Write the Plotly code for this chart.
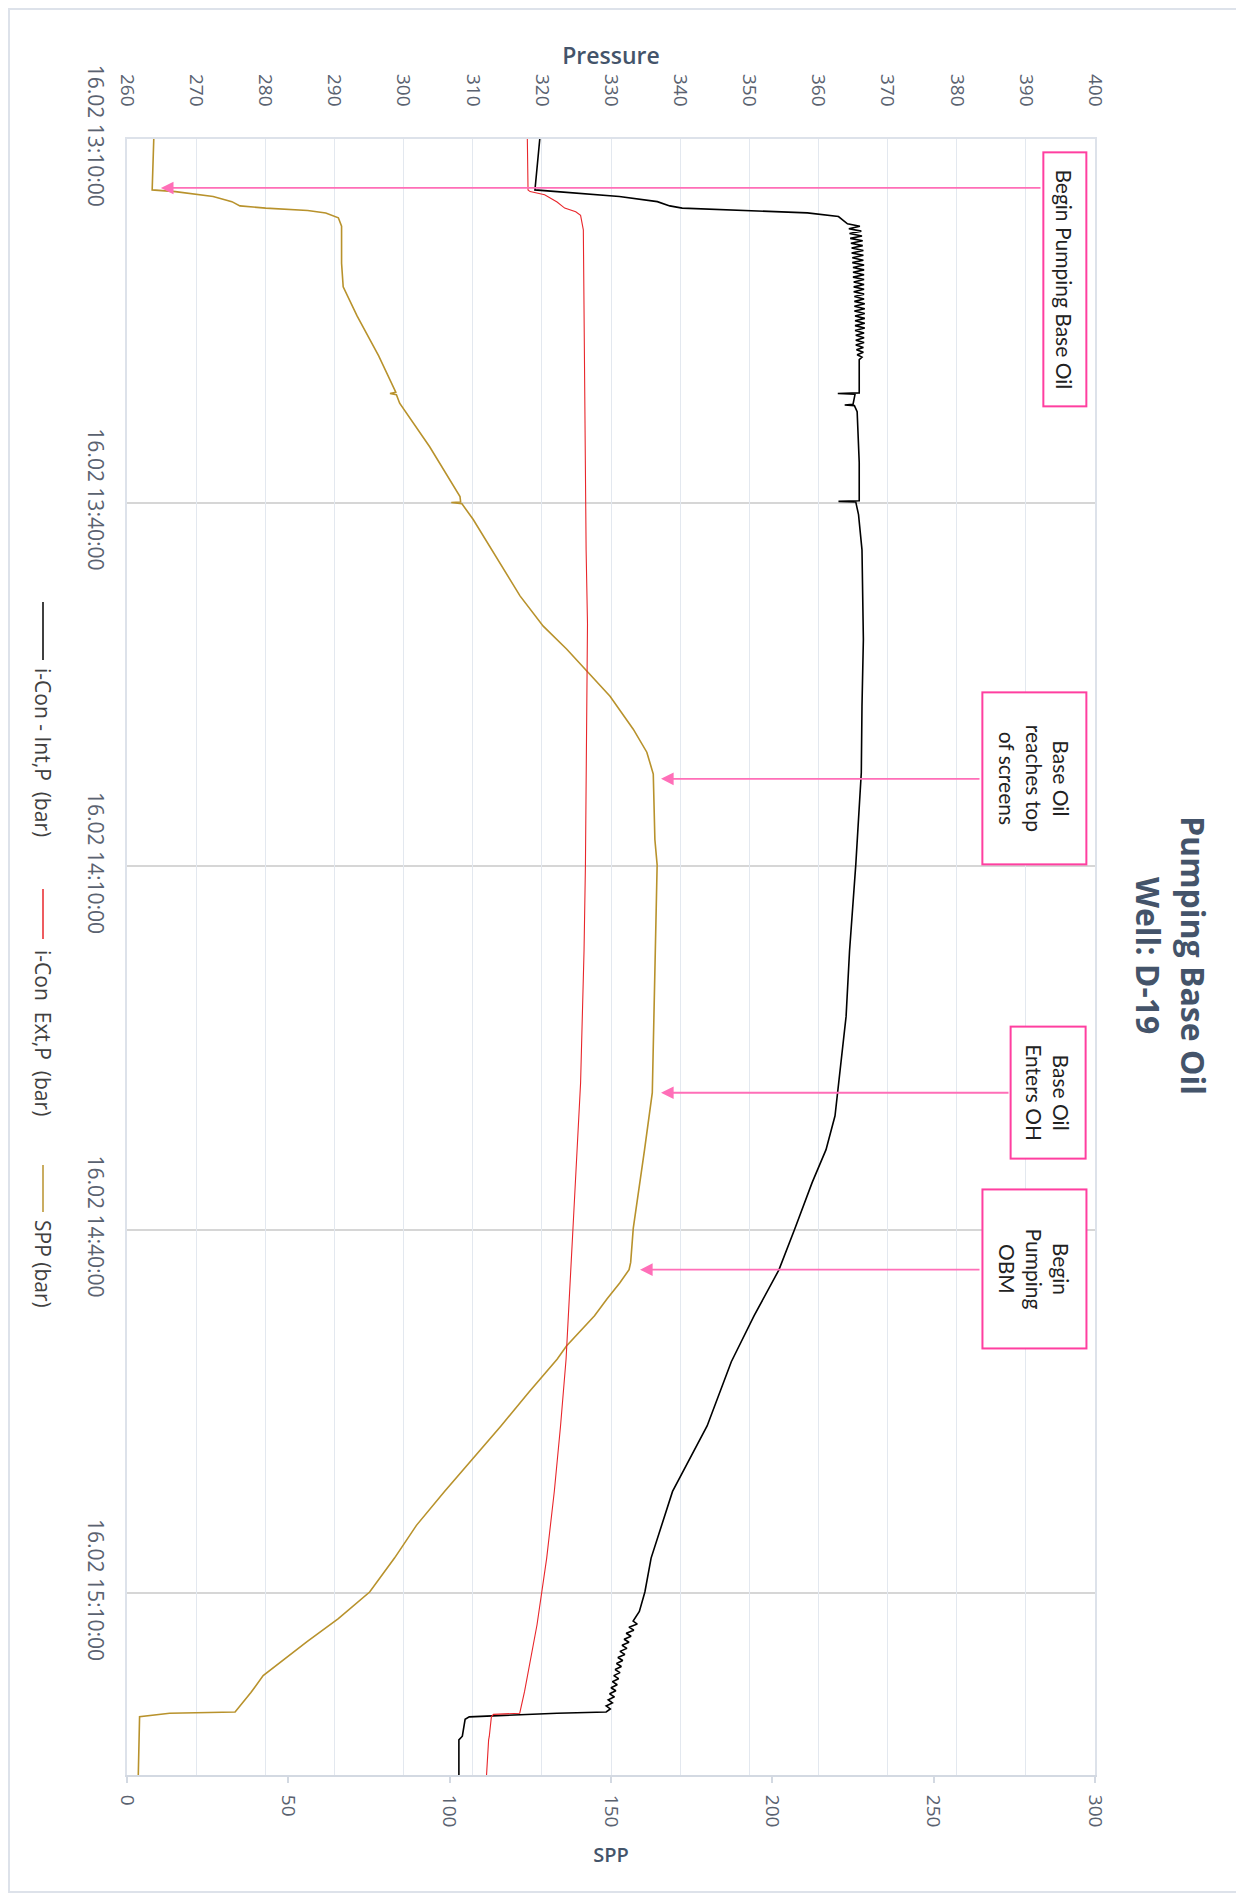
import pandas as pd
import plotly.graph_objects as go

# ---------------- data (minutes after 16.02 13:10:00) ----------------
BASE = pd.Timestamp("2024-02-16 13:10:00")

int_t = [0.0, 4.2, 4.34, 4.75, 5.17, 5.52, 5.7, 5.9, 6.1, 6.4,
         7.0, 7.2, 7.4, 7.6, 7.8, 8.0, 8.2, 8.4, 8.6, 8.8, 9.0, 9.2, 9.4, 9.6, 9.8,
         10.0, 10.2, 10.4, 10.6, 10.8, 11.0, 11.2, 11.4, 11.6, 11.8, 12.0, 12.2, 12.4,
         12.6, 12.8, 13.0, 13.2, 13.4, 13.6, 13.8, 14.0, 14.2, 14.4, 14.6, 14.8, 15.0,
         15.2, 15.4, 15.6, 15.8, 16.0, 16.2, 16.4, 16.6, 16.8, 17.0, 17.2, 17.4, 17.6,
         17.8, 18.0, 18.2,
         20.95, 21.0, 21.05, 21.9, 21.95, 22.0, 22.5, 26.7, 29.85, 29.9,
         29.95, 31.0, 33.9, 41.3, 46.8, 52.3, 59.9, 67.0, 72.4, 78.7, 80.6, 83.4, 86.1,
         89.9, 93.3, 97.1, 100.9, 106.2, 111.6, 117.1, 118.5, 119.9, 121.5,
         122.3, 122.55, 122.8, 123.05, 123.3, 123.55, 123.8, 124.05, 124.3, 124.55,
         124.8, 125.05, 125.3, 125.55, 125.8, 126.05, 126.3, 126.55, 126.8, 127.05,
         127.3, 127.55, 127.8, 128.05, 128.3, 128.55, 128.8, 129.05, 129.3, 129.55, 129.8,
         129.9, 130.2, 130.4, 131.8, 132.1, 135.0]
int_p = [319.7, 319.0, 322.2, 331.2, 336.7, 338.5, 340.3, 349.3, 358.4, 362.9,
         364.2, 366.0, 364.4, 366.2, 364.5, 366.3, 364.6, 366.4, 364.7, 366.4, 364.8, 366.5, 364.8, 366.5, 364.9,
         366.5, 364.9, 366.6, 365.0, 366.6, 365.0, 366.6, 365.0, 366.6, 365.1, 366.6, 365.1, 366.6,
         365.1, 366.6, 365.2, 366.6, 365.2, 366.7, 365.2, 366.7, 365.2, 366.7, 365.3, 366.7, 365.3,
         366.7, 365.3, 366.7, 365.3, 366.6, 365.4, 366.6, 365.4, 366.6, 365.4, 366.5, 365.5, 366.5,
         365.6, 366.3, 365.9,
         365.9, 362.8, 365.3, 365.0, 363.8, 365.2, 365.6, 365.9, 365.9, 362.9,
         365.4, 365.8, 366.3, 366.5, 366.3, 366.2, 365.4, 364.5, 364.0, 362.7, 362.4, 361.1, 359.1,
         356.6, 354.3, 350.7, 347.4, 343.9, 338.9, 335.8, 335.3, 334.9, 334.1,
         333.2, 333.8, 332.6, 333.3, 332.2, 332.9, 331.9, 332.6, 331.6, 332.3,
         331.3, 332.0, 331.0, 331.7, 330.8, 331.5, 330.6, 331.3, 330.4, 331.1,
         330.2, 330.9, 330.0, 330.7, 329.8, 330.5, 329.6, 330.2, 329.3, 329.9, 329.3,
         322.2, 309.5, 308.9, 308.5, 308.0, 308.0]

ext_t = [0.0, 4.2, 4.34, 4.6, 5.2, 5.7, 6.0, 6.3, 7.5, 21.0, 33.9, 40.0, 50.0, 60.0, 67.0,
         77.9, 89.9, 100.7, 106.2, 111.6, 117.1, 122.6, 128.1, 129.9, 130.0, 130.2,
         131.8, 132.1, 135.0]
ext_p = [317.9, 318.0, 318.3, 320.4, 322.2, 323.3, 324.9, 325.6, 326.0, 326.2, 326.4, 326.6,
         326.5, 326.3, 326.1, 325.6, 324.5, 323.5, 322.7, 321.8, 320.7, 319.3, 317.5, 316.8, 313.0,
         312.7, 312.4, 312.3, 312.0]

spp_t = [0.0, 2.0, 4.2, 4.34, 4.75, 5.17, 5.52, 5.7, 5.9, 6.1, 6.5, 7.2, 10.25, 12.2, 13.0,
         14.6, 17.9, 19.87, 20.9, 21.0, 21.1, 21.8, 25.4, 29.5, 29.95, 30.0, 30.1, 31.4,
         35.0, 37.7, 40.2, 42.1, 44.05, 45.98, 48.7, 50.6, 52.4, 57.8, 59.9, 67.6,
         75.1, 78.7, 83.4, 86.1, 89.9, 92.7, 93.3, 94.4, 95.7, 97.1, 99.6, 100.7, 103.4,
         106.2, 108.9, 111.6, 114.4, 117.1, 119.9, 122.1, 124.0, 126.8, 128.2, 129.8,
         129.9, 130.2, 135.0]
spp_v = [8.3, 8.0, 7.8, 15.0, 26.7, 32.5, 35.0, 43.0, 56.0, 61.6, 65.5, 66.5, 66.5, 67.0, 68.4,
         71.3, 78.0, 81.4, 83.3, 81.5, 83.5, 84.5, 93.8, 103.2, 103.4, 100.5, 103.8, 107.3,
         115.6, 121.8, 129.0, 136.3, 143.0, 149.7, 156.9, 161.1, 163.1, 163.6, 164.3, 163.7,
         163.3, 162.8, 160.4, 158.9, 156.9, 156.1, 155.6, 152.7, 148.8, 144.9, 136.2, 133.3, 124.6,
         115.9, 107.1, 98.4, 89.7, 82.9, 75.2, 65.5, 55.8, 42.2, 38.4, 33.5,
         13.2, 3.9, 3.5]

series_names = ["i-Con - Int,P\u00a0 (bar)", "i-Con\u00a0 Ext,P\u00a0 (bar)", "SPP (bar)"]
series_colors = ["#000000", "#e8262b", "#b8922c"]

event_texts = ["Begin Pumping Base Oil", "Base Oil<br>reaches top<br>of screens",
               "Base Oil<br>Enters OH", "Begin<br>Pumping<br>OBM"]
event_t = [4.04, 52.8, 78.7, 93.3]          # arrow time (min)
event_spp = [10.5, 165.5, 165.5, 159.0]     # arrow tip on SPP scale
box_t = [11.54, 52.76, 78.65, 93.2]          # box centre time (min)

title_lines = ["Pumping Base Oil", "Well: D-19"]


def T(mins):
    return [BASE + pd.Timedelta(minutes=m) for m in mins]


# ---------------- layout geometry (reference pixels) ----------------
W, H = 1244, 1895
OFF = 8                      # default body margin of the html page
L, R, TOP, BOT = 127, 1095, 139, 1775
PW, PH = R - L, BOT - TOP


def px(xp):
    return (xp - L) / PW


def py(yp):
    return 1 - (yp - TOP) / PH


def spp_at(xp):
    return (xp - L) / PW * 300


fig = go.Figure()
fig.add_trace(go.Scatter(x=int_p, y=T(int_t), xaxis="x2", yaxis="y", mode="lines",
                         name=series_names[0], line=dict(color=series_colors[0], width=1.6)))
fig.add_trace(go.Scatter(x=ext_p, y=T(ext_t), xaxis="x2", yaxis="y", mode="lines",
                         name=series_names[1], line=dict(color=series_colors[1], width=1.1)))
fig.add_trace(go.Scatter(x=spp_v, y=T(spp_t), xaxis="x", yaxis="y", mode="lines",
                         name=series_names[2], line=dict(color=series_colors[2], width=1.6)))

tick_font = dict(family="Open Sans, sans-serif", size=19, color="#5a6270")
time_font = dict(family="Open Sans, sans-serif", size=21, color="#5a6270")

annotations = []
shapes = []

# event boxes and arrows
box_x = [1064.5, 1034, 1048.5, 1034]
box_w = [252, 170, 130, 157]
box_h = [41, 102, 73, 102]
box_left = [1042, 981, 1010, 981]
for i in range(4):
    annotations.append(dict(
        x=event_spp[i], y=T([event_t[i]])[0], xref="x", yref="y",
        ax=spp_at(box_left[i]), ay=T([event_t[i]])[0], axref="x", ayref="y",
        text="", showarrow=True, arrowhead=2, arrowsize=1.4, arrowwidth=1.8,
        arrowcolor="#ff6fb8", standoff=0))
    annotations.append(dict(
        x=spp_at(box_x[i]), y=T([box_t[i]])[0], xref="x", yref="y",
        text=event_texts[i], showarrow=False, textangle=90,
        width=box_w[i], height=box_h[i], borderpad=0,
        bordercolor="#ff3fa0", borderwidth=2, bgcolor="white",
        font=dict(family="Lato, sans-serif", size=21, color="#222222"),
        xanchor="center", yanchor="middle", align="center", valign="middle"))

# title (rotated, two lines)
for xp, txt in zip([1194, 1149], title_lines):
    annotations.append(dict(
        x=px(xp), y=py(955), xref="paper", yref="paper",
        text="<b>" + txt + "</b>", showarrow=False, textangle=90,
        font=dict(family="Open Sans, sans-serif", size=32, color="#44546a"),
        xanchor="center", yanchor="middle", align="center"))

# legend (rotated)
leg_line = [(602, 660), (889, 939), (1165, 1212)]
leg_text_c = [752, 1033, 1264]
for i in range(3):
    shapes.append(dict(type="line", xref="paper", yref="paper",
                       x0=px(43), x1=px(43), y0=py(leg_line[i][0]), y1=py(leg_line[i][1]),
                       line=dict(color=series_colors[i], width=1.5)))
    annotations.append(dict(
        x=px(43), y=py(leg_text_c[i]), xref="paper", yref="paper",
        text=series_names[i], showarrow=False, textangle=90,
        font=dict(family="Open Sans, sans-serif", size=21, color="#404040"),
        xanchor="center", yanchor="middle"))

# outer frame
shapes.append(dict(type="rect", xref="paper", yref="paper",
                   x0=px(9), x1=px(1240), y0=py(1892), y1=py(9),
                   line=dict(color="#dde2ea", width=2), layer="below"))

fig.update_layout(
    width=W - OFF, height=H - OFF,
    margin=dict(l=L - OFF, r=W - R, t=TOP - OFF, b=H - BOT),
    paper_bgcolor="white", plot_bgcolor="white",
    showlegend=False,
    xaxis=dict(range=[0, 300], dtick=50, tick0=0, tickangle=90, side="bottom",
               showgrid=False, zeroline=False, showline=True, linecolor="#d3d9e2", linewidth=2,
               ticks="outside", ticklen=6, tickcolor="#d3d9e2", tickwidth=1.5,
               tickfont=tick_font, ticklabelstandoff=8,
               title=dict(text="SPP", standoff=22,
                          font=dict(family="Open Sans, sans-serif", size=20, color="#44546a", weight=600))),
    xaxis2=dict(range=[260, 400], dtick=10, tick0=260, tickangle=90, side="top",
                overlaying="x", anchor="y",
                showgrid=True, gridcolor="#e3e8ef", gridwidth=1.2, zeroline=False,
                showline=True, linecolor="#dde2ea", linewidth=1.5, mirror=False,
                ticks="", tickfont=tick_font, ticklabelstandoff=24,
                title=dict(text="Pressure", standoff=3,
                           font=dict(family="Open Sans, sans-serif", size=23, color="#44546a", weight=600))),
    yaxis=dict(type="date", range=[T([135])[0], T([0])[0]],
               tick0=T([0])[0], dtick=30 * 60 * 1000, tickformat="%d.%m %H:%M:%S",
               tickangle=90, tickfont=time_font, ticks="", ticklabelstandoff=12,
               showgrid=True, gridcolor="#d6d6d6", gridwidth=1.5, zeroline=False,
               showline=True, linecolor="#dde2ea", linewidth=1.5, mirror=True),
    annotations=annotations,
    shapes=shapes,
)

fig.write_html("out.html")
